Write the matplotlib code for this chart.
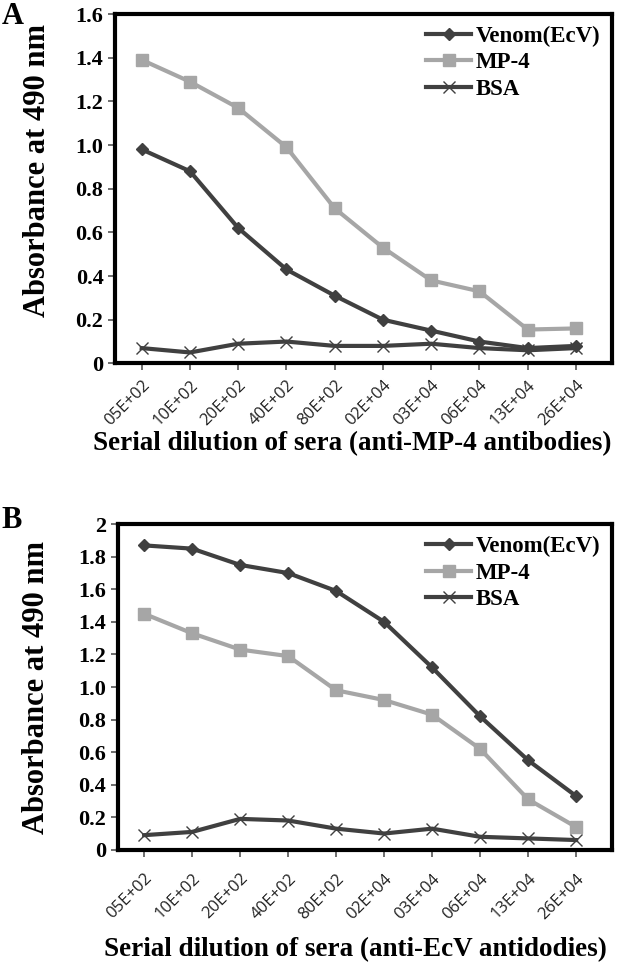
import matplotlib
matplotlib.use('Agg')
import matplotlib.pyplot as plt

# dilution labels (x categories)
dilutions = ['05E+02', '10E+02', '20E+02', '40E+02', '80E+02',
             '02E+04', '03E+04', '06E+04', '13E+04', '26E+04']

# Panel A: anti-MP-4 antibodies
a_venom = [0.98, 0.88, 0.62, 0.43, 0.31, 0.20, 0.15, 0.10, 0.07, 0.08]
a_mp4 = [1.39, 1.29, 1.17, 0.99, 0.71, 0.53, 0.38, 0.33, 0.155, 0.16]
a_bsa = [0.07, 0.05, 0.09, 0.10, 0.08, 0.08, 0.09, 0.07, 0.06, 0.07]
a_yticks = [0, 0.2, 0.4, 0.6, 0.8, 1.0, 1.2, 1.4, 1.6]
a_ylabels = ['0', '0.2', '0.4', '0.6', '0.8', '1.0', '1.2', '1.4', '1.6']

# Panel B: anti-EcV antibodies
b_venom = [1.87, 1.85, 1.75, 1.70, 1.59, 1.40, 1.12, 0.82, 0.55, 0.33]
b_mp4 = [1.45, 1.33, 1.23, 1.19, 0.98, 0.92, 0.83, 0.62, 0.31, 0.14]
b_bsa = [0.09, 0.11, 0.19, 0.18, 0.13, 0.10, 0.13, 0.08, 0.07, 0.06]
b_yticks = [0, 0.2, 0.4, 0.6, 0.8, 1.0, 1.2, 1.4, 1.6, 1.8, 2.0]
b_ylabels = ['0', '0.2', '0.4', '0.6', '0.8', '1.0', '1.2', '1.4', '1.6', '1.8', '2']

DARK = '#404040'
LIGHT = '#a6a6a6'
SERIF = 'Liberation Serif'


def draw_panel(ax, venom, mp4, bsa, yticks, ylabels, xlabel, ylab_pos, xlab_pos, xpad):
  x = list(range(len(dilutions)))
  ax.plot(x, venom, color=DARK, lw=3, marker='D', ms=6, label='Venom(EcV)')
  ax.plot(x, mp4, color=LIGHT, lw=3, marker='s', ms=8, label='MP-4')
  ax.plot(x, bsa, color=DARK, lw=3, marker='x', ms=8, mew=1, label='BSA')

  ax.set_xlim(-0.55, 9.75)
  ax.set_ylim(yticks[0], yticks[-1])
  ax.set_yticks(yticks)
  ax.set_yticklabels(ylabels, fontfamily=SERIF, fontweight='bold', fontsize=16)
  ax.set_xticks(x)
  ax.set_xticklabels(dilutions, rotation=45, ha='right', rotation_mode='anchor',
                     fontfamily='Open Sans', fontsize=12, color='#222222')
  ax.tick_params(axis='both', length=5, width=1.2, color='#555555')
  ax.tick_params(axis='x', pad=xpad)
  for s in ax.spines.values():
    s.set_linewidth(3)
    s.set_color('black')

  ax.set_ylabel('Absorbance at 490 nm', fontfamily=SERIF, fontweight='bold', fontsize=22)
  ax.yaxis.set_label_coords(*ylab_pos)
  ax.set_xlabel(xlabel, fontfamily=SERIF, fontweight='bold', fontsize=19.5)
  ax.xaxis.set_label_coords(*xlab_pos)

  ax.legend(loc='upper right', frameon=False, borderaxespad=0.1,
            handlelength=2.0, handletextpad=0.2, labelspacing=0.25,
            prop={'family': SERIF, 'weight': 'bold', 'size': 16.5})


fig = plt.figure(figsize=(6.33, 9.69), dpi=100)
ax_a = fig.add_axes([0.182, 0.625, 0.785, 0.3605])
ax_b = fig.add_axes([0.186, 0.123, 0.781, 0.336])

draw_panel(ax_a, a_venom, a_mp4, a_bsa, a_yticks, a_ylabels,
           'Serial dilution of sera (anti-MP-4 antibodies)',
           (-0.127, 0.553), (0.477, -0.195), 5)
draw_panel(ax_b, b_venom, b_mp4, b_bsa, b_yticks, b_ylabels,
           'Serial dilution of sera (anti-EcV antidodies)',
           (-0.134, 0.5), (0.48, -0.268), 10)

fig.text(0.003, 1 - 17 / 969, 'A', fontfamily=SERIF, fontweight='bold',
         fontsize=22, va='center', ha='left')
fig.text(0.003, 1 - 520 / 969, 'B', fontfamily=SERIF, fontweight='bold',
         fontsize=22, va='center', ha='left')

fig.savefig('out.png', dpi=100)
